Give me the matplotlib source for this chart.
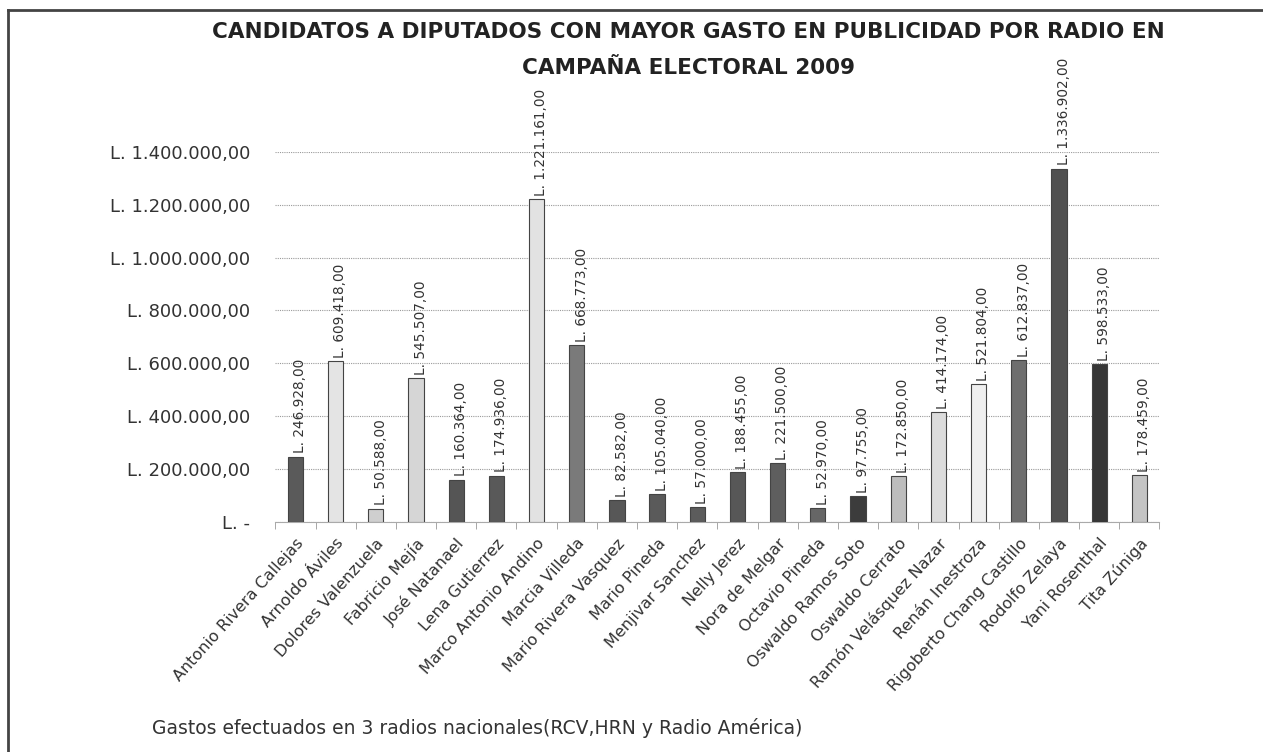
import numpy as np
import matplotlib.pyplot as plt
from matplotlib.lines import Line2D

plt.rcParams['font.family'] = ['DejaVu Sans']

candidatos = ["Antonio Rivera Callejas", "Arnoldo Áviles", "Dolores Valenzuela",
              "Fabricio Mejía", "José Natanael", "Lena Gutierrez",
              "Marco Antonio Andino", "Marcia Villeda", "Mario Rivera Vasquez",
              "Mario Pineda", "Menjivar Sanchez", "Nelly Jerez", "Nora de Melgar",
              "Octavio Pineda", "Oswaldo Ramos Soto", "Oswaldo Cerrato",
              "Ramón Velásquez Nazar", "Renán Inestroza", "Rigoberto Chang Castillo",
              "Rodolfo Zelaya", "Yani Rosenthal", "Tita Zúniga"]
gastos = [246928, 609418, 50588, 545507, 160364, 174936, 1221161, 668773,
          82582, 105040, 57000, 188455, 221500, 52970, 97755, 172850,
          414174, 521804, 612837, 1336902, 598533, 178459]
tonos = ["#5a5a5a", "#e4e4e4", "#cfcfcf", "#d6d6d6", "#555555", "#595959",
         "#e2e2e2", "#7a7a7a", "#575757", "#5a5a5a", "#5c5c5c", "#575757",
         "#5e5e5e", "#666666", "#3c3c3c", "#bdbdbd", "#dcdcdc", "#efefef",
         "#6e6e6e", "#505050", "#363636", "#c4c4c4"]
y_ticks = [0, 200000, 400000, 600000, 800000, 1000000, 1200000, 1400000]


def lempiras(v):
    if v == 0:
        return "L. -"
    s = f"{v:,.2f}".replace(",", "X").replace(".", ",").replace("X", ".")
    return "L. " + s


fig = plt.figure(figsize=(12.63, 7.52), dpi=100)
ax = fig.add_axes([0.218, 0.306, 0.700, 0.492])

x = np.arange(len(candidatos))
ax.bar(x, gastos, width=0.38, color=tonos, edgecolor="#444444", linewidth=0.8, zorder=3)

for xi, v in zip(x, gastos):
    ax.text(xi + 0.12, v + 12000, lempiras(v), rotation=90, ha="center", va="bottom",
            fontsize=9.8, color="#333333", zorder=4)

ax.set_xlim(-0.5, len(candidatos) - 0.5)
ax.set_ylim(0, 1400000)
ax.set_yticks(y_ticks)
ax.set_yticklabels([lempiras(v) for v in y_ticks], fontsize=13, color="#333333")
ax.yaxis.grid(True, linestyle=(0, (1, 1)), color="#9a9a9a", linewidth=0.8, zorder=0)
ax.tick_params(axis="y", length=0, pad=18)

ax.set_xticks(x)
ax.set_xticklabels(candidatos, rotation=48, ha="right", rotation_mode="anchor",
                   fontsize=11.5, color="#333333")
ax.set_xticks(np.arange(-0.5, len(candidatos), 1), minor=True)
ax.tick_params(axis="x", which="major", length=0, pad=10)
ax.tick_params(axis="x", which="minor", length=5, color="#999999")

for s in ["top", "right", "left"]:
    ax.spines[s].set_visible(False)
ax.spines["bottom"].set_color("#aaaaaa")

fig.text(0.545, 0.957, "CANDIDATOS A DIPUTADOS CON MAYOR GASTO EN PUBLICIDAD POR RADIO EN",
         ha="center", va="center", fontsize=15.5, fontweight="bold", color="#222222")
fig.text(0.545, 0.910, "CAMPAÑA ELECTORAL 2009",
         ha="center", va="center", fontsize=15.5, fontweight="bold", color="#222222")
fig.text(0.120, 0.032, "Gastos efectuados en 3 radios nacionales(RCV,HRN y Radio América)",
         ha="left", va="center", fontsize=13.5, color="#333333")

# marco exterior (borde superior e izquierdo)
fig.add_artist(Line2D([0.006, 1.0], [0.987, 0.987], color="#444444", linewidth=2))
fig.add_artist(Line2D([0.006, 0.006], [0.0, 0.987], color="#444444", linewidth=2))

fig.savefig("out.png", dpi=100)
